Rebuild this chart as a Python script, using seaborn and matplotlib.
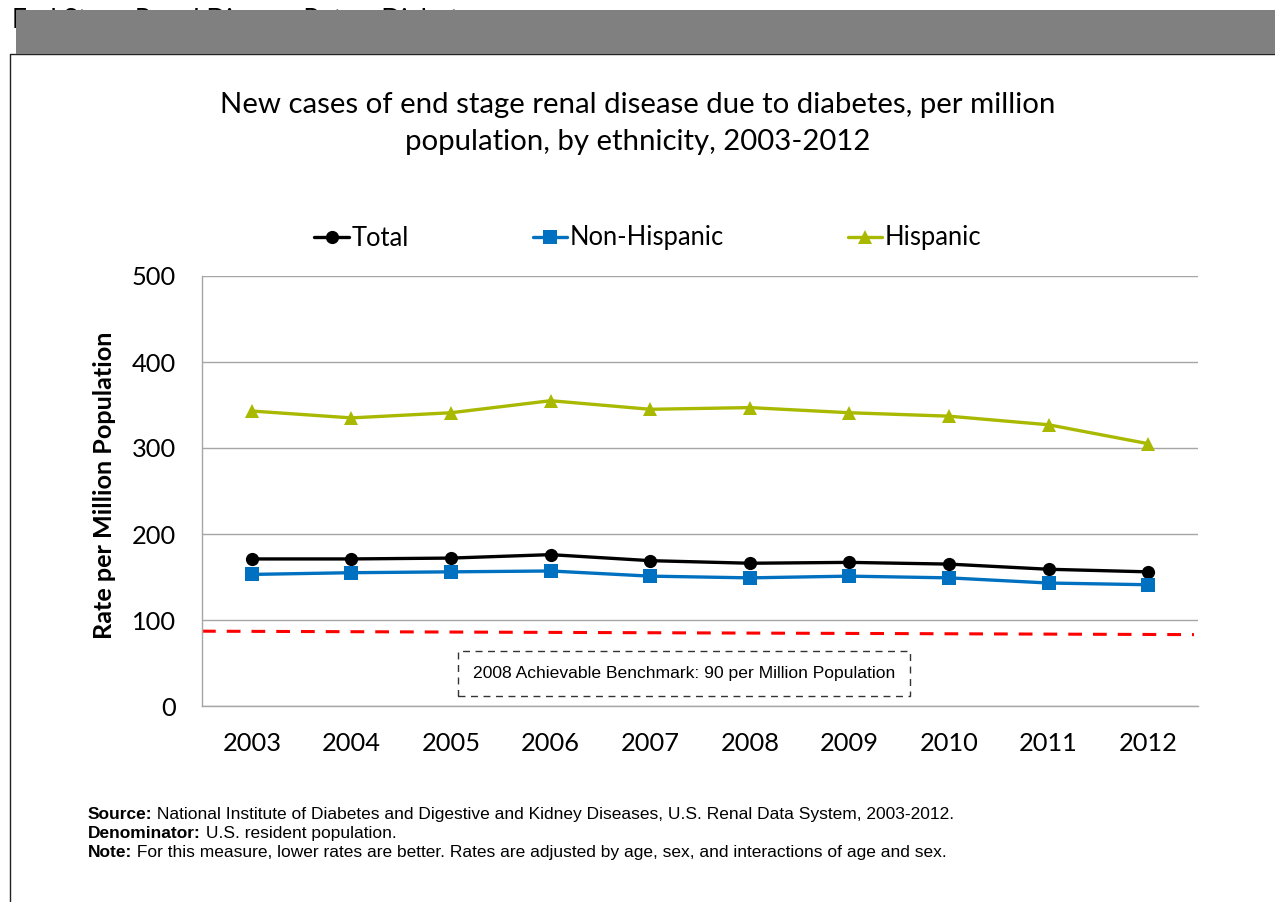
"""
plot.py
Line chart of new ESRD cases due to diabetes per million population, by ethnicity.
"""

import matplotlib

matplotlib.use("Agg")
import matplotlib.pyplot as plt
from matplotlib.patches import Rectangle
from matplotlib.lines import Line2D
import pandas as pd
import seaborn as sns

# --- Data ---
YEARS = [2003, 2004, 2005, 2006, 2007, 2008, 2009, 2010, 2011, 2012]
TOTAL = [171, 171, 172, 176, 169, 166, 167, 165, 159, 156]
NON_HISPANIC = [153, 155, 156, 157, 151, 149, 151, 149, 143, 141]
HISPANIC = [343, 335, 341, 355, 345, 347, 341, 337, 327, 305]
SERIES = ["Total", "Non-Hispanic", "Hispanic"]
BENCH_LINE = [87, 83]  # drawn line at left / right edge
BENCH_LABEL = "2008 Achievable Benchmark: 90 per Million Population"

TITLE = ("New cases of end stage renal disease due to diabetes, per million\n"
         "population, by ethnicity, 2003-2012")
HEADER = "End Stage Renal Disease Rates: Diabetes"
NOTES = [
    ("Source:", " National Institute of Diabetes and Digestive and Kidney Diseases, U.S. Renal Data System, 2003-2012."),
    ("Denominator:", " U.S. resident population."),
    ("Note:", " For this measure, lower rates are better. Rates are adjusted by age, sex, and interactions of age and sex."),
]

COLORS = {"Total": "#000000", "Non-Hispanic": "#0070C0", "Hispanic": "#A8B900"}
MARKERS = {"Total": "o", "Non-Hispanic": "s", "Hispanic": "^"}
GRID = "#A6A6A6"

sns.set_theme(style="white")
plt.rcParams["font.family"] = ["Lato", "DejaVu Sans"]
plt.rcParams["text.color"] = "black"
plt.rcParams["axes.labelcolor"] = "black"

df = pd.DataFrame({
    "Year": YEARS * 3,
    "Rate": TOTAL + NON_HISPANIC + HISPANIC,
    "Series": sum([[s] * len(YEARS) for s in SERIES], []),
})

W, H = 1275, 902
fig = plt.figure(figsize=(W / 100, H / 100), dpi=100)
ax = fig.add_axes([202 / W, 1 - 706 / H, 996 / W, 430 / H])

sns.lineplot(data=df, x="Year", y="Rate", hue="Series", style="Series",
             palette=COLORS, markers=MARKERS, dashes=False, linewidth=2.4,
             markersize=9.5, markeredgewidth=0, ax=ax, legend=False)

# benchmark line
ax.plot([YEARS[0] - 0.5, YEARS[-1] + 0.46], BENCH_LINE, color="#FF0000",
        lw=2.2, ls=(0, (4.5, 3.6)), zorder=1)

ax.set_xlim(YEARS[0] - 0.5, YEARS[-1] + 0.5)
ax.set_ylim(0, 500)
ax.set_yticks(range(0, 501, 100))
ax.set_xticks(YEARS)
ax.set_xticklabels([str(y) for y in YEARS])
ax.set_xticks([y - 0.5 for y in YEARS] + [YEARS[-1] + 0.5], minor=True)
ax.tick_params(axis="x", which="major", length=0, pad=19, labelsize=18.3, labelcolor="black")
ax.tick_params(axis="x", which="minor", length=7, width=1, color=GRID, direction="out")
ax.tick_params(axis="y", length=7, width=1, color=GRID, direction="out", pad=12,
               labelsize=18.3, labelcolor="black")
ax.yaxis.grid(True, color=GRID, lw=1)
ax.set_axisbelow(True)
for side in ["top", "right"]:
    ax.spines[side].set_visible(False)
for side in ["left", "bottom"]:
    ax.spines[side].set_color(GRID)
    ax.spines[side].set_linewidth(1)
ax.set_xlabel("")
ax.set_ylabel("Rate per Million Population", fontsize=18.2, fontweight="bold")
ax.yaxis.set_label_coords((116 - 202) / 996, (706 - 485) / 430)

# benchmark label in dashed box
ax.text(0.4844, 0.0756, BENCH_LABEL, transform=ax.transAxes, ha="center", va="center",
        fontsize=12.6, family="Liberation Sans",
        bbox=dict(boxstyle="square,pad=0.85", fc="white", ec="#333333", lw=1, ls=(0, (5, 4))))

# legend
handles = [Line2D([], [], color=COLORS[s], marker=MARKERS[s], lw=2.4, markersize=9.5,
                  markeredgewidth=0) for s in SERIES]
fig.legend(handles, SERIES, loc="center", bbox_to_anchor=(648 / W, 1 - 238 / H), ncol=3,
           frameon=False, fontsize=18.4, handlelength=1.35, handletextpad=0.1,
           columnspacing=4.85)

fig.text(0.5, 1 - 123.5 / H, TITLE, ha="center", va="center", fontsize=21.2, linespacing=1.5)

# header strip and frame
fig.text(12 / W, 1 - 8 / H, HEADER, ha="left", va="top", fontsize=19, color="black")
fig.patches.append(Rectangle((16 / W, 1 - 54 / H), 1, 44 / H, transform=fig.transFigure,
                             fc="#808080", ec="none", zorder=5))
fig.add_artist(Line2D([10 / W, 1], [1 - 54 / H] * 2, color="#222222", lw=1))
fig.add_artist(Line2D([10 / W] * 2, [0, 1 - 54 / H], color="#222222", lw=1))

# footnotes with bold lead-ins
renderer = fig.canvas.get_renderer()
for i, (lead, rest) in enumerate(NOTES):
    y = 1 - (819 + 19 * i) / H
    t = fig.text(88 / W, y, lead, ha="left", va="baseline", fontsize=12.5,
                 fontweight="bold", family="Liberation Sans")
    bb = t.get_window_extent(renderer)
    fig.text(bb.x1 / W, y, rest, ha="left", va="baseline", fontsize=12.5,
             family="Liberation Sans")

fig.savefig("out.png", dpi=100)
